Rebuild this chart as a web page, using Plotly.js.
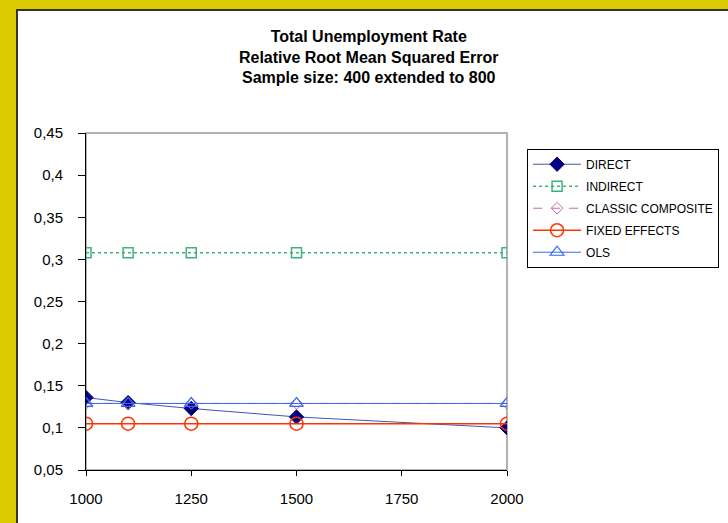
<!DOCTYPE html>
<html>
<head>
<meta charset="utf-8">
<script src="https://cdn.plot.ly/plotly-3.0.1.min.js"></script>
<style>
  html, body { margin:0; padding:0; width:728px; height:523px; overflow:hidden; background:#DCCB00; }
  #frame { position:absolute; left:16px; top:9px; width:712px; height:514px; background:#fff;
           border-left:2px solid #333; border-top:2px solid #333; }
  #chart { width:710px; height:512px; }
</style>
</head>
<body>
<div id="frame"><div id="chart"></div></div>
<script>
// Data
var sampleSizes = [1000, 1100, 1250, 1500, 2000];
var direct      = [0.136, 0.130, 0.123, 0.113, 0.100];
var indirect    = [0.308, 0.308, 0.308, 0.308, 0.308];
var classicComp = [0.129, 0.129, 0.129, 0.129, 0.129];
var fixedEff    = [0.105, 0.105, 0.105, 0.105, 0.105];
var ols         = [0.129, 0.129, 0.129, 0.129, 0.129];

var seriesNames = ['DIRECT', 'INDIRECT', 'CLASSIC COMPOSITE', 'FIXED EFFECTS', 'OLS'];

var yTickVals = [0.05, 0.1, 0.15, 0.2, 0.25, 0.3, 0.35, 0.4, 0.45];
var yTickText = ['0,05', '0,1', '0,15', '0,2', '0,25', '0,3', '0,35', '0,4', '0,45'];
var xTickVals = [1000, 1250, 1500, 1750, 2000];
var xTickText = ['1000', '1250', '1500', '1750', '2000'];

var titleLines = ['Total Unemployment Rate', 'Relative Root Mean Squared Error', 'Sample size: 400 extended to 800'];

var FONT = 'Liberation Sans, Arial, sans-serif';

var traces = [
  { x: sampleSizes, y: direct, name: seriesNames[0], type: 'scatter', mode: 'lines+markers', legendgroup: 'a',
    line: { color: '#4455B0', width: 1 },
    marker: { symbol: 'diamond', size: 11, color: '#000080', line: { color: '#000080', width: 1 } } },
  { x: sampleSizes, y: indirect, name: seriesNames[1], type: 'scatter', mode: 'lines+markers', legendgroup: 'b',
    line: { color: '#3DB37B', width: 1.5, dash: 'dot' },
    marker: { symbol: 'square-open', size: 10, color: '#3DB37B', line: { color: '#3DB37B', width: 1.5 } } },
  { x: sampleSizes, y: classicComp, name: seriesNames[2], type: 'scatter', mode: 'lines+markers', legendgroup: 'c',
    line: { color: '#CC6699', width: 1, dash: 'dash' },
    marker: { symbol: 'diamond-open', size: 9, color: '#CC6699', line: { color: '#CC6699', width: 1 } } },
  { x: sampleSizes, y: fixedEff, name: seriesNames[3], type: 'scatter', mode: 'lines+markers', legendgroup: 'd',
    line: { color: '#FF3300', width: 1.5 },
    marker: { symbol: 'circle-open', size: 13, color: '#FF3300', line: { color: '#FF3300', width: 1.5 } } },
  { x: sampleSizes, y: ols, name: seriesNames[4], type: 'scatter', mode: 'lines+markers', legendgroup: 'e',
    line: { color: '#3366FF', width: 1 },
    marker: { symbol: 'triangle-up-open', size: 12, color: '#3366FF', line: { color: '#3366FF', width: 1.2 } } }
];

var layout = {
  width: 710, height: 512,
  margin: { l: 68, r: 221, t: 122, b: 53, pad: 0 },
  paper_bgcolor: '#FFFFFF',
  plot_bgcolor: '#FFFFFF',
  font: { family: FONT, color: '#000000' },
  title: {
    text: '<b>' + titleLines.join('<br>') + '</b>',
    font: { family: FONT, size: 16, color: '#000000' },
    xref: 'container', x: 0.494, xanchor: 'center',
    yref: 'container', y: 0.94, yanchor: 'top'
  },
  xaxis: {
    range: [1000, 2000], tickmode: 'array', tickvals: xTickVals, ticktext: xTickText,
    showgrid: false, zeroline: false, showline: true, linecolor: '#000000', linewidth: 1,
    ticks: 'outside', ticklen: 5, tickcolor: '#000000', tickwidth: 1, ticklabelstandoff: 10,
    tickfont: { family: FONT, size: 15, color: '#000000' }
  },
  yaxis: {
    range: [0.05, 0.45], tickmode: 'array', tickvals: yTickVals, ticktext: yTickText,
    showgrid: false, zeroline: false, showline: true, linecolor: '#000000', linewidth: 1,
    ticks: 'outside', ticklen: 7, tickcolor: '#000000', tickwidth: 1, ticklabelstandoff: 12,
    tickfont: { family: FONT, size: 15, color: '#000000' }
  },
  shapes: [{
    type: 'rect', xref: 'paper', yref: 'paper', x0: 0, x1: 1, y0: 0, y1: 1,
    line: { color: '#999999', width: 1.5 }, layer: 'below'
  }],
  showlegend: true,
  legend: {
    xref: 'container', yref: 'container',
    x: 0.717, xanchor: 'left', y: 0.731, yanchor: 'top',
    bordercolor: '#000000', borderwidth: 1, bgcolor: '#FFFFFF',
    font: { family: FONT, size: 12, color: '#000000' },
    itemwidth: 48, tracegroupgap: 3, traceorder: 'grouped'
  }
};

Plotly.newPlot('chart', traces, layout, { displayModeBar: false, staticPlot: true });
</script>
</body>
</html>
